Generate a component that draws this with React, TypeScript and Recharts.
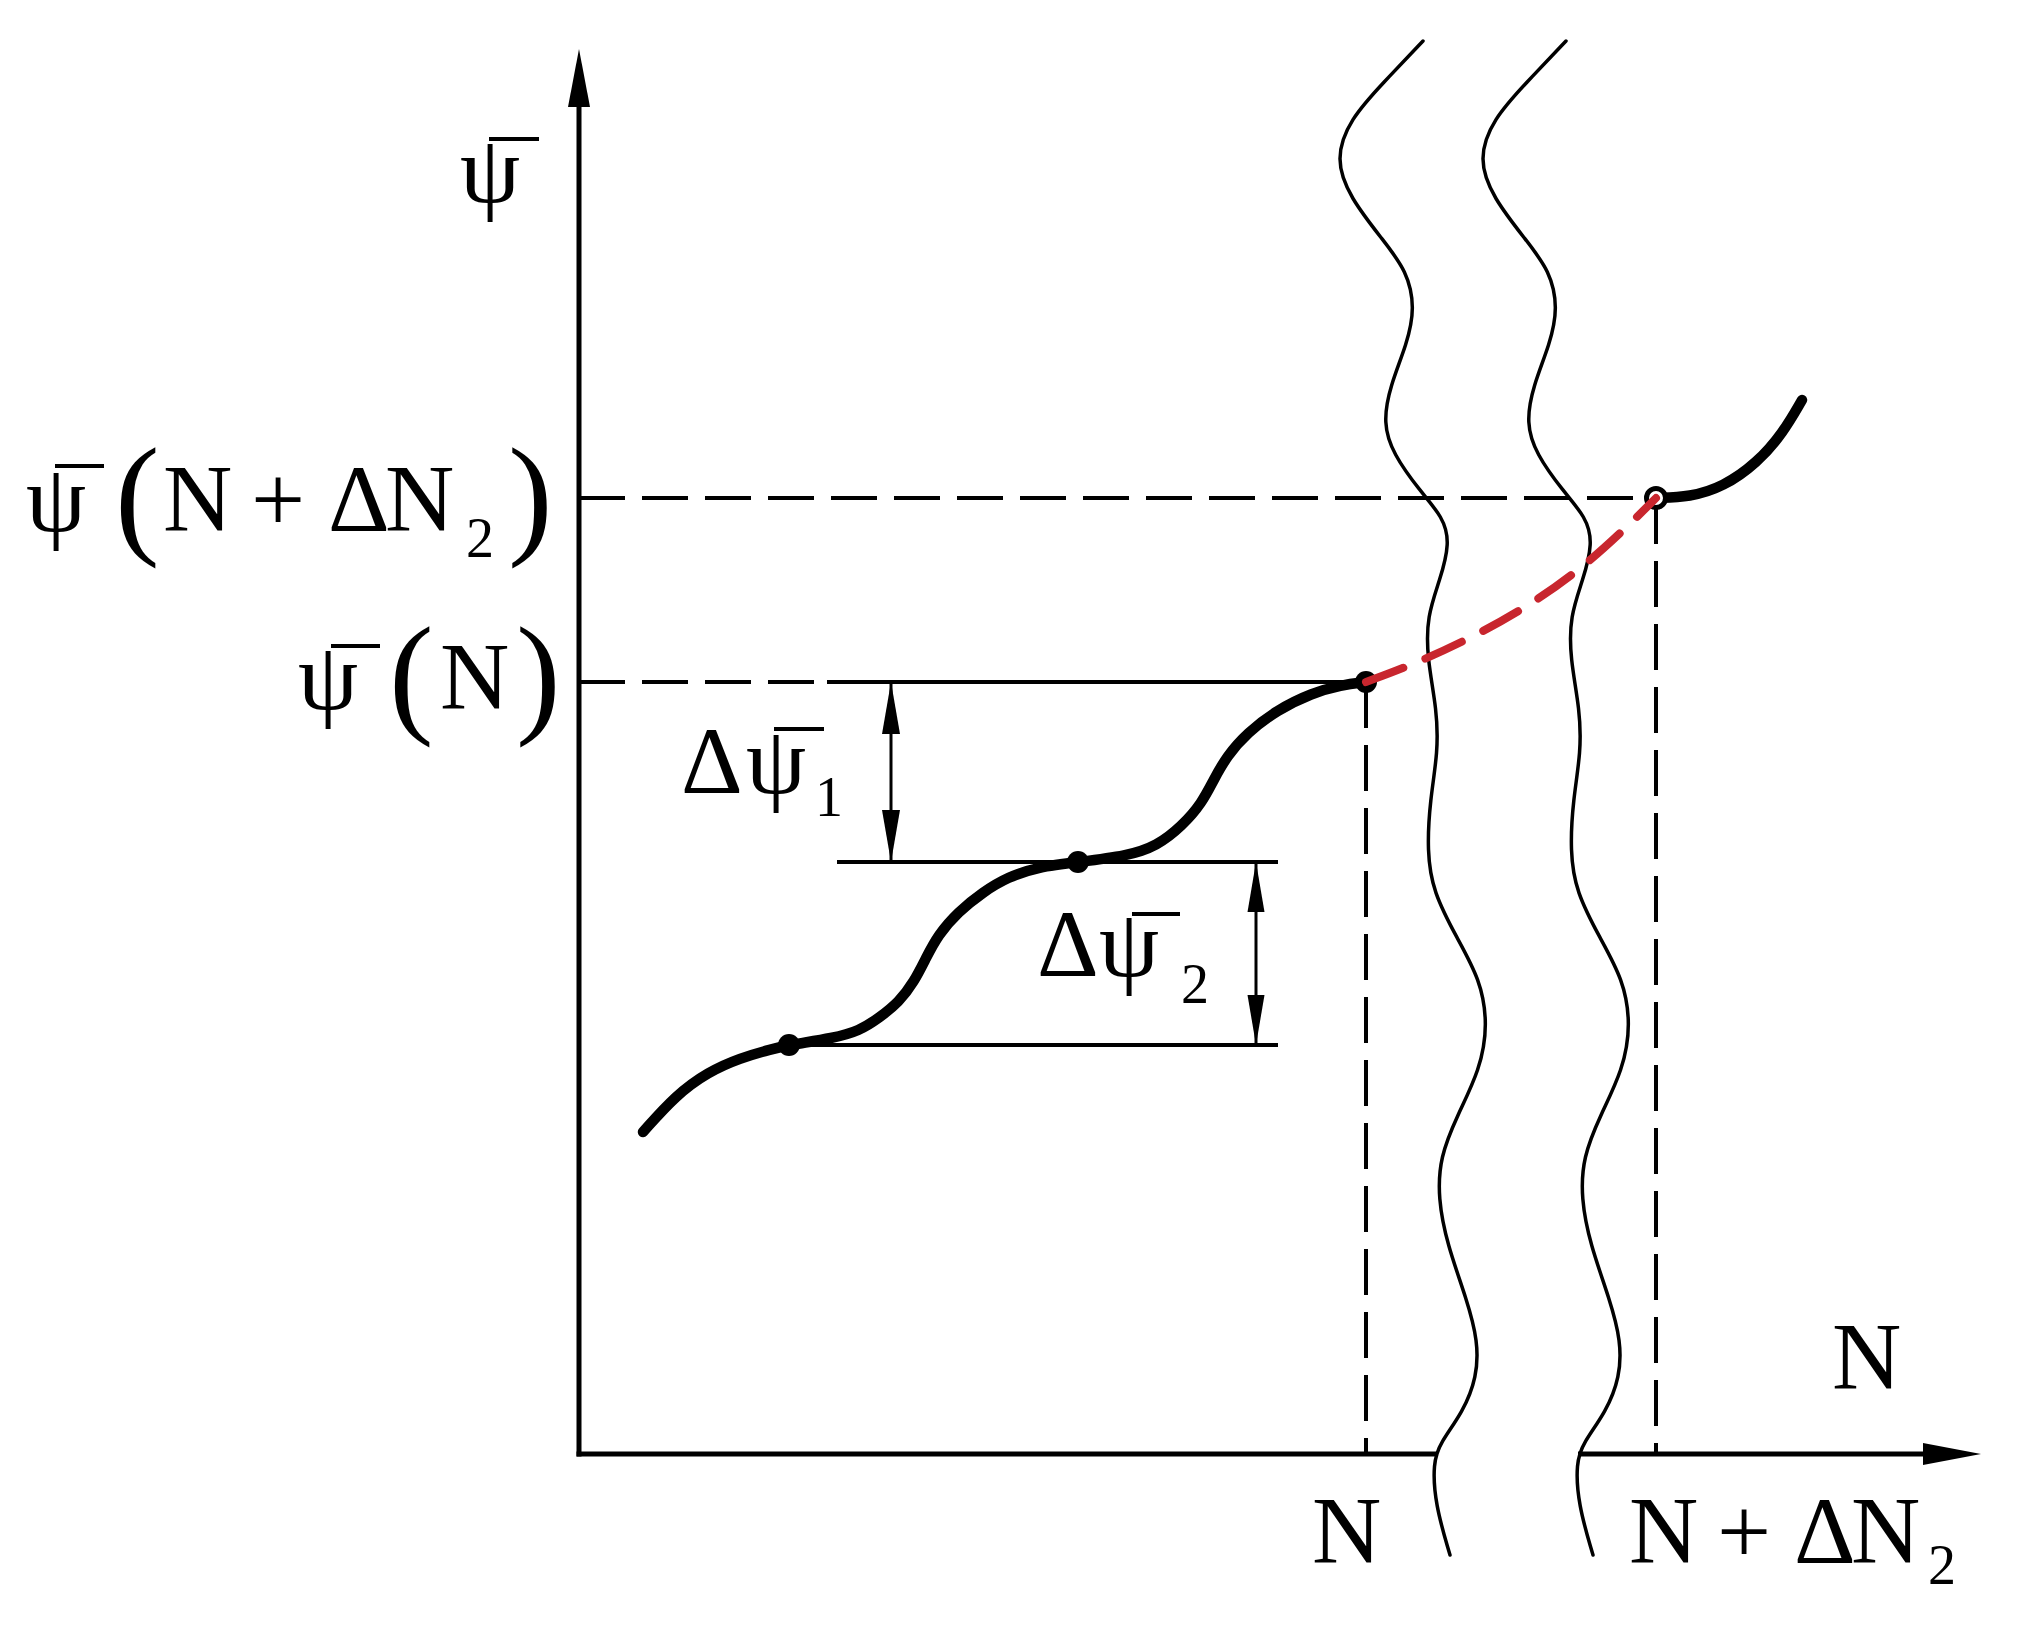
import React from 'react';
import { ComposedChart, XAxis, YAxis, Scatter, ReferenceLine, ReferenceDot, Curve } from 'recharts';

const FONT = '"Liberation Serif", "Times New Roman", Times, serif';
const RED = '#c8262e';

// Key abscissae / ordinates (diagram units)
const N_VAL = 78.7;
const N2_VAL = 107.7;
const PSI_N = 77.2;
const PSI_N2 = 95.6;
const STEP_MID = 59.2;
const STEP_LOW = 40.9;
const X_TIP = 140.2;
const Y_TIP = 140.5;
const X_ARROW_BASE = 134.4;
const Y_ARROW_BASE = 134.7;
const AXIS_BREAK = [85.6, 99.9];
const DASH_END = 24.8;
const UPPER_STEP_START = 25.8;
const STEP_END = 69.9;
const ARROW1_X = 31.2;
const ARROW2_X = 67.7;

// Measured psi(N) curve (thick black)
const mainCurve = [
  { x: 6.4, y: 32.2 }, { x: 9.7, y: 35.9 }, { x: 12.9, y: 38.2 }, { x: 16.1, y: 39.6 },
  { x: 19.3, y: 40.5 }, { x: 21.0, y: 40.9 }, { x: 25.5, y: 41.6 }, { x: 28.0, y: 42.3 },
  { x: 30.0, y: 43.6 }, { x: 32.0, y: 45.2 }, { x: 33.5, y: 47.2 }, { x: 34.7, y: 49.6 },
  { x: 35.9, y: 51.9 }, { x: 37.9, y: 54.2 }, { x: 40.4, y: 56.2 }, { x: 42.9, y: 57.7 },
  { x: 45.9, y: 58.7 }, { x: 49.9, y: 59.2 }, { x: 54.8, y: 59.8 }, { x: 57.8, y: 60.8 },
  { x: 60.3, y: 62.8 }, { x: 62.3, y: 65.1 }, { x: 63.5, y: 67.5 }, { x: 64.8, y: 69.8 },
  { x: 66.8, y: 72.1 }, { x: 69.8, y: 74.4 }, { x: 73.3, y: 76.1 }, { x: 76.2, y: 76.9 },
  { x: 78.7, y: 77.2 },
];

// Extrapolated part (red dashed)
const extrapolated = [
  { x: 78.7, y: 77.2 }, { x: 83.8, y: 79.1 }, { x: 89.4, y: 81.7 }, { x: 94.8, y: 84.7 },
  { x: 100.1, y: 88.4 }, { x: 104.8, y: 92.7 }, { x: 107.7, y: 95.6 },
];

// Continuation after N + dN2
const nextCurve = [
  { x: 107.7, y: 95.6 }, { x: 111.1, y: 95.7 }, { x: 114.4, y: 96.7 }, { x: 117.8, y: 99.1 },
  { x: 120.4, y: 102.1 }, { x: 122.3, y: 105.4 },
];

// Break lines (wavy)
const breakLineA = [
  { x: 84.4, y: 141.3 }, { x: 80.4, y: 137.1 }, { x: 77.1, y: 133.5 }, { x: 75.6, y: 129.5 },
  { x: 77.1, y: 125.6 }, { x: 80.4, y: 121.4 }, { x: 82.8, y: 118.3 }, { x: 83.6, y: 114.6 },
  { x: 82.8, y: 111.0 }, { x: 81.1, y: 106.8 }, { x: 80.4, y: 103.1 }, { x: 81.4, y: 100.0 },
  { x: 84.1, y: 96.3 }, { x: 86.4, y: 93.7 }, { x: 87.1, y: 91.1 }, { x: 86.1, y: 87.4 },
  { x: 84.8, y: 83.8 }, { x: 84.8, y: 79.6 }, { x: 85.8, y: 74.4 }, { x: 85.9, y: 70.2 },
  { x: 85.1, y: 65.4 }, { x: 84.8, y: 60.3 }, { x: 85.4, y: 56.2 }, { x: 87.8, y: 51.6 },
  { x: 90.1, y: 47.5 }, { x: 90.9, y: 43.0 }, { x: 90.1, y: 38.4 }, { x: 87.8, y: 33.8 },
  { x: 86.1, y: 29.7 }, { x: 85.9, y: 25.6 }, { x: 86.8, y: 21.0 }, { x: 88.8, y: 15.4 },
  { x: 89.9, y: 11.3 }, { x: 89.8, y: 7.7 }, { x: 88.4, y: 4.2 }, { x: 86.1, y: 1.1 },
  { x: 85.4, y: -0.9 }, { x: 85.6, y: -5.0 }, { x: 87.1, y: -10.1 },
];
const breakLineB = [
  { x: 98.7, y: 141.3 }, { x: 94.7, y: 137.1 }, { x: 91.4, y: 133.5 }, { x: 89.9, y: 129.5 },
  { x: 91.4, y: 125.6 }, { x: 94.7, y: 121.4 }, { x: 97.1, y: 118.3 }, { x: 97.9, y: 114.6 },
  { x: 97.1, y: 111.0 }, { x: 95.4, y: 106.8 }, { x: 94.7, y: 103.1 }, { x: 95.7, y: 100.0 },
  { x: 98.4, y: 96.3 }, { x: 100.7, y: 93.7 }, { x: 101.4, y: 91.1 }, { x: 100.4, y: 87.4 },
  { x: 99.1, y: 83.8 }, { x: 99.1, y: 79.6 }, { x: 100.1, y: 74.4 }, { x: 100.2, y: 70.2 },
  { x: 99.4, y: 65.4 }, { x: 99.1, y: 60.3 }, { x: 99.7, y: 56.2 }, { x: 102.1, y: 51.6 },
  { x: 104.4, y: 47.5 }, { x: 105.2, y: 43.0 }, { x: 104.4, y: 38.4 }, { x: 102.1, y: 33.8 },
  { x: 100.4, y: 29.7 }, { x: 100.2, y: 25.6 }, { x: 101.1, y: 21.0 }, { x: 103.1, y: 15.4 },
  { x: 104.2, y: 11.3 }, { x: 104.1, y: 7.7 }, { x: 102.7, y: 4.2 }, { x: 100.4, y: 1.1 },
  { x: 99.7, y: -0.9 }, { x: 99.9, y: -5.0 }, { x: 101.4, y: -10.1 },
];

const stepDots = [
  { x: 21.0, y: STEP_LOW },
  { x: 49.9, y: STEP_MID },
  { x: N_VAL, y: PSI_N },
];
const openDots = [{ x: N2_VAL, y: PSI_N2 }];

type Piece = { t: string; dx: number; dy: number; size?: number };
type Bar = { x1: number; x2: number; dy: number };

function makeLabel(pieces: Piece[], bars: Bar[]) {
  return (props: any) => {
    const { cx, cy } = props;
    return (
      <g>
        {pieces.map((p, i) => (
          <text key={i} x={cx + p.dx} y={cy + p.dy} fontFamily={FONT} fontSize={p.size ?? 96} fill="#000">
            {p.t}
          </text>
        ))}
        {bars.map((b, i) => (
          <line key={'b' + i} x1={cx + b.x1} x2={cx + b.x2} y1={cy + b.dy} y2={cy + b.dy} stroke="#000" strokeWidth={4} />
        ))}
      </g>
    );
  };
}

const axisPsiLabel = makeLabel([{ t: 'ψ', dx: -119, dy: 153 }], [{ x1: -90, x2: -40, dy: 90 }]);
const psiN2Label = makeLabel(
  [
    { t: 'ψ', dx: -553, dy: 33 },
    { t: '(', dx: -464, dy: 42, size: 134 },
    { t: 'N', dx: -416, dy: 33 },
    { t: '+', dx: -328, dy: 33 },
    { t: 'Δ', dx: -251, dy: 33 },
    { t: 'N', dx: -194, dy: 33 },
    { t: '2', dx: -113, dy: 59, size: 56 },
    { t: ')', dx: -71, dy: 42, size: 134 },
  ],
  [{ x1: -524, x2: -475, dy: -32 }]
);
const psiNLabel = makeLabel(
  [
    { t: 'ψ', dx: -281, dy: 27 },
    { t: '(', dx: -190, dy: 37, size: 134 },
    { t: 'N', dx: -139, dy: 27 },
    { t: ')', dx: -63, dy: 37, size: 134 },
  ],
  [{ x1: -248, x2: -199, dy: -36 }]
);
const dPsi1Label = makeLabel(
  [
    { t: 'Δ', dx: -210, dy: -69 },
    { t: 'ψ', dx: -145, dy: -69 },
    { t: '1', dx: -76, dy: -46, size: 56 },
  ],
  [{ x1: -117, x2: -67, dy: -133 }]
);
const dPsi2Label = makeLabel(
  [
    { t: 'Δ', dx: -219, dy: -69 },
    { t: 'ψ', dx: -157, dy: -69 },
    { t: '2', dx: -75, dy: -42, size: 56 },
  ],
  [{ x1: -124, x2: -76, dy: -131 }]
);
const nTickLabel = makeLabel([{ t: 'N', dx: -54, dy: 109 }], []);
const n2TickLabel = makeLabel(
  [
    { t: 'N', dx: -27, dy: 109 },
    { t: '+', dx: 61, dy: 109 },
    { t: 'Δ', dx: 138, dy: 109 },
    { t: 'N', dx: 195, dy: 109 },
    { t: '2', dx: 272, dy: 130, size: 56 },
  ],
  []
);
const axisNLabel = makeLabel([{ t: 'N', dx: -149, dy: -65 }], []);

const arrowUp = (len: number, half: number) => (p: any) => (
  <polygon points={`${p.cx},${p.cy} ${p.cx - half},${p.cy + len} ${p.cx + half},${p.cy + len}`} fill="#000" />
);
const arrowDown = (len: number, half: number) => (p: any) => (
  <polygon points={`${p.cx},${p.cy} ${p.cx - half},${p.cy - len} ${p.cx + half},${p.cy - len}`} fill="#000" />
);
const arrowRight = (len: number, half: number) => (p: any) => (
  <polygon points={`${p.cx},${p.cy} ${p.cx - len},${p.cy - half} ${p.cx - len},${p.cy + half}`} fill="#000" />
);

const curveLine = (type: string, stroke: string, width: number, dash?: string) => (props: any) => (
  <Curve
    points={props.points}
    type={type as any}
    stroke={stroke}
    strokeWidth={width}
    strokeDasharray={dash}
    strokeLinecap="round"
    strokeLinejoin="round"
    fill="none"
  />
);

const noPoint = () => <g />;
const DASH = '46 17';

export default function App() {
  return (
    <ComposedChart width={2010} height={1621} margin={{ top: 22, right: 27, bottom: 29, left: 521 }}>
      <XAxis type="number" dataKey="x" domain={[-5, 141.2]} hide allowDataOverflow />
      <YAxis type="number" dataKey="y" domain={[-14.6, 142.4]} hide allowDataOverflow />

      {/* axes */}
      <ReferenceLine segment={[{ x: 0, y: 0 }, { x: 0, y: Y_ARROW_BASE }]} stroke="#000" strokeWidth={5} strokeLinecap="square" />
      <ReferenceLine segment={[{ x: 0, y: 0 }, { x: AXIS_BREAK[0], y: 0 }]} stroke="#000" strokeWidth={5} strokeLinecap="square" />
      <ReferenceLine segment={[{ x: AXIS_BREAK[1], y: 0 }, { x: X_ARROW_BASE, y: 0 }]} stroke="#000" strokeWidth={5} />
      <ReferenceDot x={0} y={Y_TIP} shape={arrowUp(58, 11)} ifOverflow="visible" />
      <ReferenceDot x={X_TIP} y={0} shape={arrowRight(58, 11)} ifOverflow="visible" />

      {/* guide lines */}
      <ReferenceLine segment={[{ x: 0, y: PSI_N2 }, { x: N2_VAL, y: PSI_N2 }]} stroke="#000" strokeWidth={4} strokeDasharray={DASH} />
      <ReferenceLine segment={[{ x: 0, y: PSI_N }, { x: DASH_END, y: PSI_N }]} stroke="#000" strokeWidth={4} strokeDasharray={DASH} />
      <ReferenceLine segment={[{ x: DASH_END, y: PSI_N }, { x: N_VAL, y: PSI_N }]} stroke="#000" strokeWidth={4} />
      <ReferenceLine segment={[{ x: N_VAL, y: PSI_N }, { x: N_VAL, y: 0 }]} stroke="#000" strokeWidth={4} strokeDasharray={DASH} />
      <ReferenceLine segment={[{ x: N2_VAL, y: PSI_N2 }, { x: N2_VAL, y: 0 }]} stroke="#000" strokeWidth={4} strokeDasharray={DASH} />
      <ReferenceLine segment={[{ x: UPPER_STEP_START, y: STEP_MID }, { x: STEP_END, y: STEP_MID }]} stroke="#000" strokeWidth={4} />
      <ReferenceLine segment={[{ x: 21.0, y: STEP_LOW }, { x: STEP_END, y: STEP_LOW }]} stroke="#000" strokeWidth={4} />

      {/* dimension arrows */}
      <ReferenceLine segment={[{ x: ARROW1_X, y: PSI_N }, { x: ARROW1_X, y: STEP_MID }]} stroke="#000" strokeWidth={3} />
      <ReferenceLine segment={[{ x: ARROW2_X, y: STEP_MID }, { x: ARROW2_X, y: STEP_LOW }]} stroke="#000" strokeWidth={3} />
      <ReferenceDot x={ARROW1_X} y={PSI_N} shape={arrowUp(52, 9)} ifOverflow="visible" />
      <ReferenceDot x={ARROW1_X} y={STEP_MID} shape={arrowDown(52, 9)} ifOverflow="visible" />
      <ReferenceDot x={ARROW2_X} y={STEP_MID} shape={arrowUp(50, 8.5)} ifOverflow="visible" />
      <ReferenceDot x={ARROW2_X} y={STEP_LOW} shape={arrowDown(50, 8.5)} ifOverflow="visible" />

      {/* break lines */}
      <Scatter data={breakLineA} line={curveLine('basis', '#000', 3.5)} shape={noPoint} isAnimationActive={false} />
      <Scatter data={breakLineB} line={curveLine('basis', '#000', 3.5)} shape={noPoint} isAnimationActive={false} />

      {/* curves */}
      <Scatter data={mainCurve} line={curveLine('basis', '#000', 10.5)} shape={noPoint} isAnimationActive={false} />
      <Scatter data={nextCurve} line={curveLine('basis', '#000', 10.5)} shape={noPoint} isAnimationActive={false} />
      <Scatter data={stepDots} shape={(p: any) => <circle cx={p.cx} cy={p.cy} r={11} fill="#000" />} isAnimationActive={false} />
      <Scatter data={openDots} shape={(p: any) => <circle cx={p.cx} cy={p.cy} r={9.5} fill="#fff" stroke="#000" strokeWidth={5} />} isAnimationActive={false} />
      <Scatter data={extrapolated} line={curveLine('basis', RED, 8, '40 24')} shape={noPoint} isAnimationActive={false} />

      {/* labels */}
      <ReferenceDot x={0} y={Y_TIP} shape={axisPsiLabel} ifOverflow="visible" />
      <ReferenceDot x={0} y={PSI_N2} shape={psiN2Label} ifOverflow="visible" />
      <ReferenceDot x={0} y={PSI_N} shape={psiNLabel} ifOverflow="visible" />
      <ReferenceDot x={ARROW1_X} y={STEP_MID} shape={dPsi1Label} ifOverflow="visible" />
      <ReferenceDot x={ARROW2_X} y={STEP_LOW} shape={dPsi2Label} ifOverflow="visible" />
      <ReferenceDot x={N_VAL} y={0} shape={nTickLabel} ifOverflow="visible" />
      <ReferenceDot x={N2_VAL} y={0} shape={n2TickLabel} ifOverflow="visible" />
      <ReferenceDot x={X_TIP} y={0} shape={axisNLabel} ifOverflow="visible" />
    </ComposedChart>
  );
}
